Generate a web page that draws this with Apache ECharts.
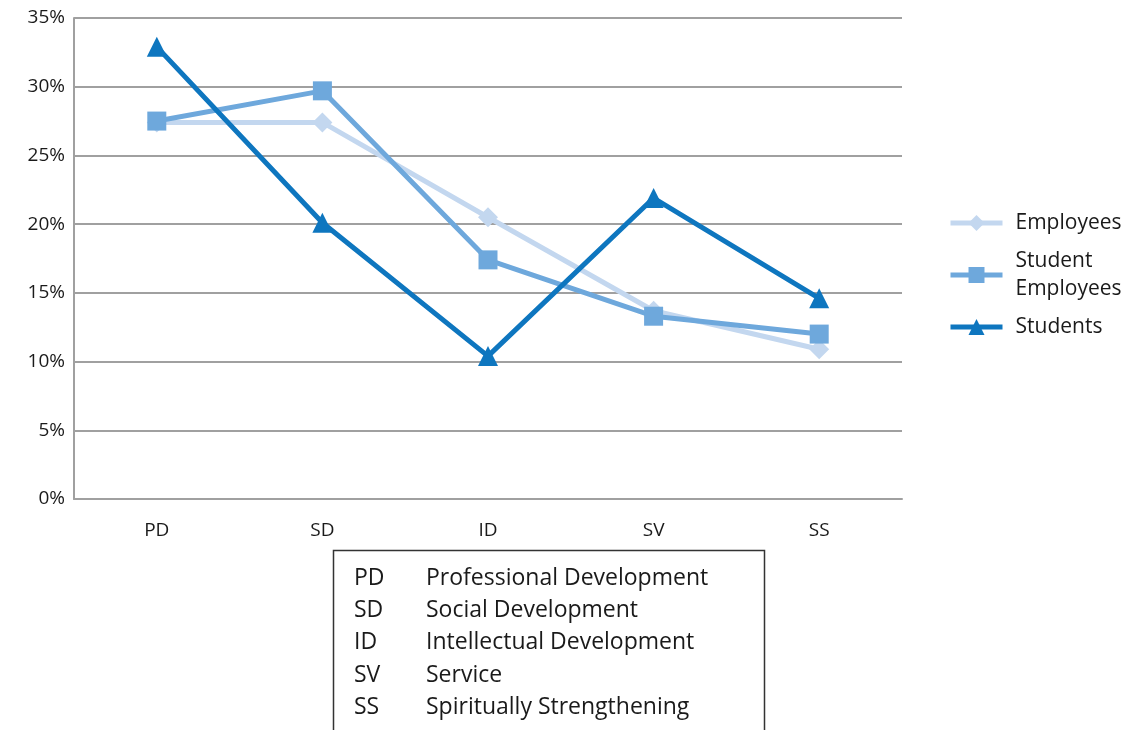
<!DOCTYPE html>
<html><head><meta charset="utf-8">
<script src="https://cdn.jsdelivr.net/npm/echarts@6/dist/echarts.min.js"></script>
<style>html,body{margin:0;padding:0;background:#fff}#c{width:1128px;height:730px}</style>
</head><body><div id="c"></div>
<script>
const categories = ['PD','SD','ID','SV','SS'];
const descriptions = ['Professional Development','Social Development','Intellectual Development','Service','Spiritually Strengthening'];
const employees = [27.4, 27.4, 20.5, 13.7, 10.9];
const studentEmployees = [27.5, 29.7, 17.4, 13.3, 12.0];
const students = [32.9, 20.1, 10.4, 21.9, 14.6];
const yTicks = [0,5,10,15,20,25,30,35];

const FONT = '"Open Sans", Lato, sans-serif';
const chart = echarts.init(document.getElementById('c'));
const tableRows = [];
categories.forEach((c,i)=>{
  const y = 577 + i*32.2;
  tableRows.push({type:'text', left:354, top:y-10, style:{text:c, font:'23px '+FONT, fill:'#1a1a1a'}});
  tableRows.push({type:'text', left:426, top:y-10, style:{text:descriptions[i], font:'23px '+FONT, fill:'#1a1a1a'}});
});
chart.setOption({
  animation:false,
  grid:{left:74, right:226, top:18, bottom:231},
  legend:{
    orient:'vertical', left:943, top:204, itemWidth:52, itemHeight:20, itemGap:10,
    lineStyle:{width:5},
    textStyle:{fontSize:21, fontFamily:FONT, color:'#1a1a1a', lineHeight:28, padding:[0,0,0,8]},
    data:['Employees','Student\nEmployees','Students']
  },
  xAxis:{type:'category', data:categories, boundaryGap:true,
    axisLine:{lineStyle:{color:'#a0a0a0', width:2}}, axisTick:{show:false},
    axisLabel:{fontSize:19, fontFamily:FONT, color:'#1a1a1a', margin:22}},
  yAxis:{type:'value', min:yTicks[0], max:yTicks[yTicks.length-1], interval:5,
    axisLine:{show:true, lineStyle:{color:'#a0a0a0', width:2}}, axisTick:{show:false},
    splitLine:{lineStyle:{color:'#a0a0a0', width:2}},
    axisLabel:{formatter:'{value}%', fontSize:19, fontFamily:FONT, color:'#1a1a1a', margin:9}},
  series:[
    {name:'Employees', type:'line', data:employees, symbol:'diamond', symbolSize:20,
     lineStyle:{width:5, color:'#c3d7ef'}, itemStyle:{color:'#c3d7ef'}},
    {name:'Student\nEmployees', type:'line', data:studentEmployees, symbol:'rect', symbolSize:19,
     lineStyle:{width:5, color:'#6ea8dc'}, itemStyle:{color:'#6ea8dc'}},
    {name:'Students', type:'line', data:students, symbol:'triangle', symbolSize:20,
     lineStyle:{width:5, color:'#0e76bf'}, itemStyle:{color:'#0e76bf'}}
  ],
  graphic:[
    {type:'rect', shape:{x:333.5, y:550.5, width:431, height:200}, style:{fill:'none', stroke:'#333', lineWidth:1.5}},
    ...tableRows
  ]
});
</script></body></html>
